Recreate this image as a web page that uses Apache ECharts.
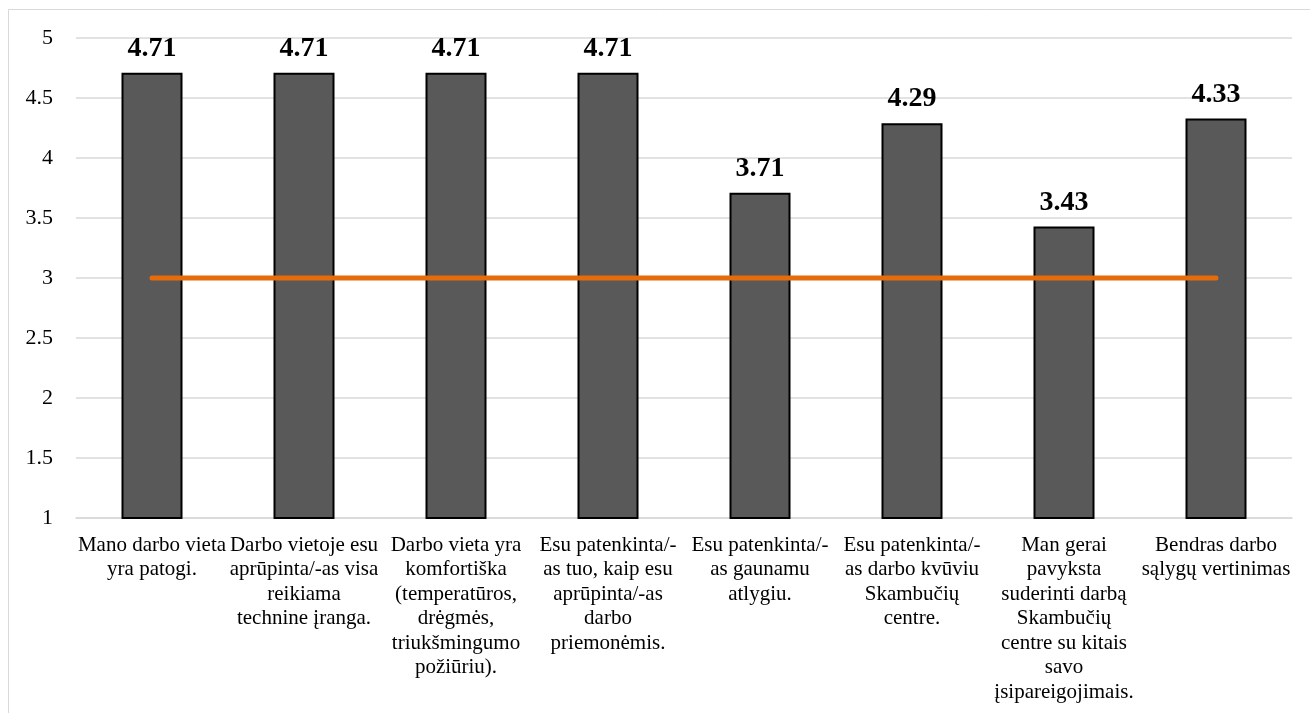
<!DOCTYPE html>
<html>
<head>
<meta charset="utf-8">
<script src="https://cdn.jsdelivr.net/npm/echarts@6/dist/echarts.min.js"></script>
<style>html,body{margin:0;padding:0;background:#fff;}#c{width:1310px;height:713px;}</style>
</head>
<body>
<div id="c"></div>
<script>
const categories = [
  "Mano darbo vieta\nyra patogi.",
  "Darbo vietoje esu\naprūpinta/-as visa\nreikiama\ntechnine įranga.",
  "Darbo vieta yra\nkomfortiška\n(temperatūros,\ndrėgmės,\ntriukšmingumo\npožiūriu).",
  "Esu patenkinta/-\nas tuo, kaip esu\naprūpinta/-as\ndarbo\npriemonėmis.",
  "Esu patenkinta/-\nas gaunamu\natlygiu.",
  "Esu patenkinta/-\nas darbo kvūviu\nSkambučių\ncentre.",
  "Man gerai\npavyksta\nsuderinti darbą\nSkambučių\ncentre su kitais\nsavo\nįsipareigojimais.",
  "Bendras darbo\nsąlygų vertinimas"
];
const scores = [4.71, 4.71, 4.71, 4.71, 3.71, 4.29, 3.43, 4.33];
const reference = [3, 3, 3, 3, 3, 3, 3, 3];
const yMin = 1, yMax = 5, yStep = 0.5;

const chart = echarts.init(document.getElementById('c'));
const font = '"Liberation Serif", "Times New Roman", serif';
chart.setOption({
  animation: false,
  backgroundColor: '#fff',
  graphic: [{
    type: 'rect', silent: true, z: -1,
    shape: { x: 8.5, y: 9.5, width: 1400, height: 800 },
    style: { fill: 'none', stroke: '#d9d9d9', lineWidth: 1 }
  }],
  grid: { left: 76, right: 18, top: 38, bottom: 195 },
  xAxis: {
    type: 'category',
    data: categories,
    axisTick: { show: false },
    axisLine: { lineStyle: { color: '#d9d9d9', width: 1.5 } },
    axisLabel: {
      interval: 0, margin: 15, fontFamily: font, fontSize: 21,
      color: '#000', lineHeight: 24.5, align: 'center', verticalAlign: 'top'
    }
  },
  yAxis: {
    type: 'value', min: yMin, max: yMax, interval: yStep,
    axisLine: { show: false }, axisTick: { show: false },
    splitLine: { lineStyle: { color: '#d9d9d9', width: 1.5 } },
    axisLabel: { fontFamily: font, fontSize: 22, color: '#000', margin: 23 }
  },
  series: [
    {
      type: 'bar', data: scores, barWidth: 61,
      itemStyle: { color: '#595959', borderColor: '#000', borderWidth: 2 },
      label: {
        show: true, position: 'top', distance: 10,
        fontFamily: font, fontSize: 28, fontWeight: 'bold', color: '#000',
        formatter: p => p.value.toFixed(2)
      }
    },
    {
      type: 'line', data: reference, symbol: 'none',
      lineStyle: { color: '#E46C0A', width: 5, cap: 'round' },
      z: 5
    }
  ]
});
</script>
</body>
</html>
